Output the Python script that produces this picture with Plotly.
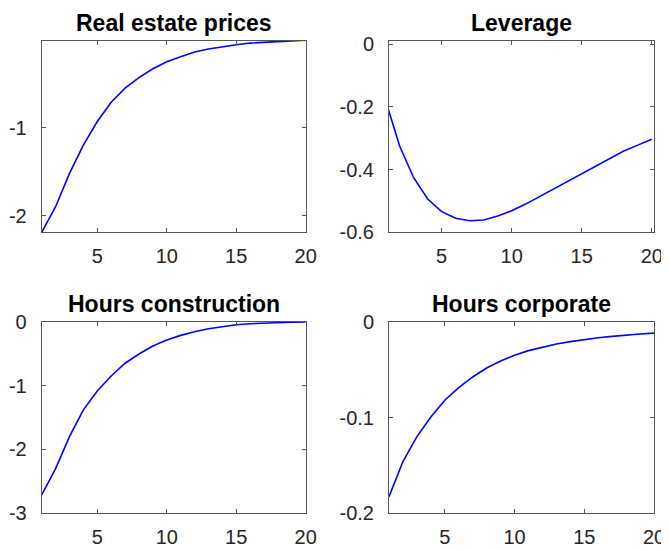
import plotly.graph_objects as go

# the page body has an 8px margin, so the figure is drawn 8px in from the window edge
OFF = 8
W, H = 669 - OFF, 550 - OFF

periods = list(range(1, 21))

real_estate_prices = [-2.19, -1.898, -1.52, -1.197, -0.93, -0.71, -0.55, -0.43, -0.33, -0.25,
                      -0.193, -0.14, -0.106, -0.08, -0.057, -0.038, -0.027, -0.019, -0.0125, -0.005]
leverage = [-0.18, -0.325, -0.426, -0.494, -0.534, -0.555, -0.563, -0.561, -0.548, -0.531,
            -0.510, -0.486, -0.462, -0.436, -0.412, -0.388, -0.364, -0.341, -0.322, -0.303]
hours_construction = [-2.71, -2.30, -1.80, -1.38, -1.085, -0.85, -0.65, -0.506, -0.38, -0.287,
                      -0.214, -0.156, -0.11, -0.073, -0.047, -0.031, -0.02, -0.013, -0.008, -0.003]
hours_corporate = [-0.1827, -0.146, -0.120, -0.0994, -0.082, -0.0688, -0.0577, -0.0483, -0.041, -0.0351,
                   -0.0302, -0.0265, -0.0233, -0.0208, -0.0187, -0.0167, -0.0153, -0.0139, -0.0129, -0.0119]

titles = ["Real estate prices", "Leverage", "Hours construction", "Hours corporate"]
series = [real_estate_prices, leverage, hours_construction, hours_corporate]

x_ticks = [5, 10, 15, 20]
y_ticks = [[-2, -1], [-0.6, -0.4, -0.2, 0], [-3, -2, -1, 0], [-0.2, -0.1, 0]]
y_ticktext = [["-2", "-1"], ["-0.6", "-0.4", "-0.2", "0"], ["-3", "-2", "-1", "0"], ["-0.2", "-0.1", "0"]]
x_ranges = [[1, 20], [1.24, 20.16], [1, 20], [1, 20]]
y_ranges = [[-2.189, -0.011], [-0.6, 0.011], [-3, 0], [-0.2, 0]]

# panel boxes in window pixels (left, right, top, bottom)
boxes = [(41.7, 305.7, 40.7, 232.3), (389, 654, 40.7, 232.3),
         (41.7, 305.7, 321.7, 513.3), (389, 654, 321.7, 513.3)]

fig = go.Figure()
axis_color = "#555555"
tick_font = dict(family="Liberation Sans, Arial, sans-serif", size=20, color="#262626")

layout = dict(
    width=W, height=H, margin=dict(l=0, r=0, t=0, b=0, autoexpand=False),
    paper_bgcolor="white", plot_bgcolor="white", showlegend=False,
)
annotations = []
for i in range(4):
    l, r, t, b = [v - OFF for v in boxes[i]]
    sx = "" if i == 0 else str(i + 1)
    fig.add_trace(go.Scatter(x=periods, y=series[i], mode="lines",
                             line=dict(color="#0000ff", width=1.6),
                             xaxis="x" + sx, yaxis="y" + sx, hoverinfo="skip"))
    layout["xaxis" + sx] = dict(
        domain=[l / W, r / W], range=x_ranges[i], anchor="y" + sx, automargin=False,
        tickvals=x_ticks, ticktext=[str(v) for v in x_ticks],
        ticks="inside", ticklen=4, tickcolor=axis_color, tickwidth=1,
        showline=True, linecolor=axis_color, linewidth=1, mirror="ticks",
        showgrid=False, zeroline=False, tickfont=tick_font, ticklabelstandoff=6,
    )
    layout["yaxis" + sx] = dict(
        domain=[1 - b / H, 1 - t / H], range=y_ranges[i], anchor="x" + sx, automargin=False,
        tickvals=y_ticks[i], ticktext=y_ticktext[i],
        ticks="inside", ticklen=4, tickcolor=axis_color, tickwidth=1,
        showline=True, linecolor=axis_color, linewidth=1, mirror="ticks",
        showgrid=False, zeroline=False, tickfont=tick_font, ticklabelstandoff=10,
    )
    annotations.append(dict(
        text="<b>" + titles[i] + "</b>", x=(l + r) / 2 / W, y=1 - (t - 17.5) / H,
        xref="paper", yref="paper", xanchor="center", yanchor="middle", showarrow=False,
        font=dict(family="Liberation Sans, Arial, sans-serif", size=23, color="#000000"),
    ))
layout["annotations"] = annotations
fig.update_layout(**layout)
fig.write_html("out.html")
